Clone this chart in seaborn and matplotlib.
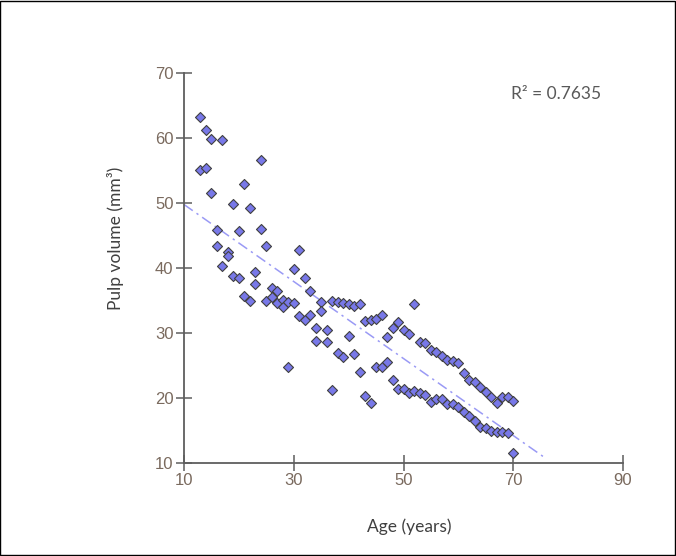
import matplotlib
matplotlib.use("Agg")
import matplotlib.pyplot as plt
import numpy as np
import pandas as pd
import seaborn as sns

# ages (years) and pulp volume (mm3)
age = [13, 14, 15, 17, 13, 14, 24, 21, 15, 19, 22, 16, 20, 24, 16, 25, 18, 18,
       31, 17, 23, 30, 19, 20, 32, 23, 26, 27, 33, 21, 22, 25, 26, 27, 28, 28,
       29, 30, 35, 35, 37, 38, 39, 40, 41, 42, 31, 32, 33, 34, 36, 34, 36, 40,
       43, 44, 45, 46, 49, 48, 50, 51, 47, 38, 39, 41, 29, 42, 45, 46, 47, 48,
       49, 50, 51, 37, 43, 44, 52, 53, 54, 55, 56, 57, 58, 59, 60, 61, 62, 63,
       64, 65, 66, 67, 68, 69, 70, 52, 53, 54, 55, 56, 57, 58, 59, 60, 61, 62,
       63, 64, 65, 66, 67, 68, 69, 70]
volume = [63.3, 61.3, 59.8, 59.7, 55.1, 55.4, 56.6, 53.0, 51.6, 49.8, 49.2, 45.9,
          45.7, 46.0, 43.4, 43.4, 42.4, 41.8, 42.8, 40.3, 39.4, 39.8, 38.7, 38.5,
          38.4, 37.6, 37.0, 36.5, 36.4, 35.7, 35.0, 35.0, 35.6, 34.6, 35.1, 34.0,
          34.7, 34.6, 34.8, 33.4, 35.0, 34.8, 34.6, 34.4, 34.1, 34.5, 32.6, 32.0,
          32.8, 30.7, 30.5, 28.7, 28.6, 29.6, 31.9, 32.0, 32.2, 32.8, 31.7, 30.8,
          30.5, 29.8, 29.4, 27.0, 26.3, 26.8, 24.8, 24.0, 24.8, 24.8, 25.6, 22.7,
          21.4, 21.4, 20.7, 21.2, 20.3, 19.3, 34.5, 28.6, 28.5, 27.4, 27.1, 26.5,
          25.9, 25.7, 25.4, 23.9, 22.8, 22.5, 21.7, 20.9, 20.2, 19.3, 20.2, 20.1,
          19.6, 21.1, 20.7, 20.4, 19.4, 19.9, 19.9, 19.1, 19.1, 18.6, 17.9, 17.2,
          16.4, 15.6, 15.4, 15.0, 14.7, 14.7, 14.6, 11.5]

trend_ages = [10, 76]
r2_text = "R\u00b2 = 0.7635"
x_ticks = [10, 30, 50, 70, 90]
y_ticks = [10, 20, 30, 40, 50, 60, 70]

df = pd.DataFrame({"Age": age, "Volume": volume})

slope, intercept = np.polyfit(df["Age"], df["Volume"], 1)
trend = pd.DataFrame({"Age": trend_ages})
trend["Volume"] = intercept + slope * trend["Age"]

sns.set_style("white")
plt.rcParams["font.family"] = ["Liberation Sans", "DejaVu Sans"]

fig = plt.figure(figsize=(6.76, 5.56), dpi=100)
ax = fig.add_axes([184 / 676, 93 / 556, 439 / 676, 390 / 556])

sns.lineplot(data=trend, x="Age", y="Volume", ax=ax, color="#9a9af5",
             linewidth=1.1, linestyle=(0, (7, 3, 1.5, 3)))
sns.scatterplot(data=df, x="Age", y="Volume", ax=ax, marker="D", s=26,
                color="#7878e8", edgecolor="#404040", linewidth=0.8, zorder=3)

ax.set_xlim(10, 90)
ax.set_ylim(10, 70)
ax.set_xticks(x_ticks)
ax.set_yticks(y_ticks)

for side in ["top", "right"]:
    ax.spines[side].set_visible(False)
for side in ["left", "bottom"]:
    ax.spines[side].set_color("#5e5e5e")
    ax.spines[side].set_linewidth(1.3)

ax.tick_params(bottom=True, left=True, direction="inout", length=11,
               width=1.1, color="#5e5e5e", labelcolor="#7a6a5e",
               labelsize=12, pad=2)

ax.set_xlabel("Age (years)", fontsize=12.5, color="#404040", family="Lato")
ax.set_ylabel("Pulp volume (mm\u00b3)", fontsize=12.5, color="#404040",
              family="Lato")
ax.xaxis.set_label_coords((409 - 184) / 439, -(518 - 463) / 390)
ax.yaxis.set_label_coords(-(184 - 124) / 439, (463 - 238) / 390)

fig.text(556 / 676, 1 - 94 / 556, r2_text, fontsize=12.5, color="#595959",
         family="Lato", ha="center", va="center")

fig.patches.append(plt.Rectangle((0.0005, 0.001), 0.998, 0.998,
                                 transform=fig.transFigure, fill=False,
                                 edgecolor="black", linewidth=1))

fig.savefig("out.png", dpi=100)
